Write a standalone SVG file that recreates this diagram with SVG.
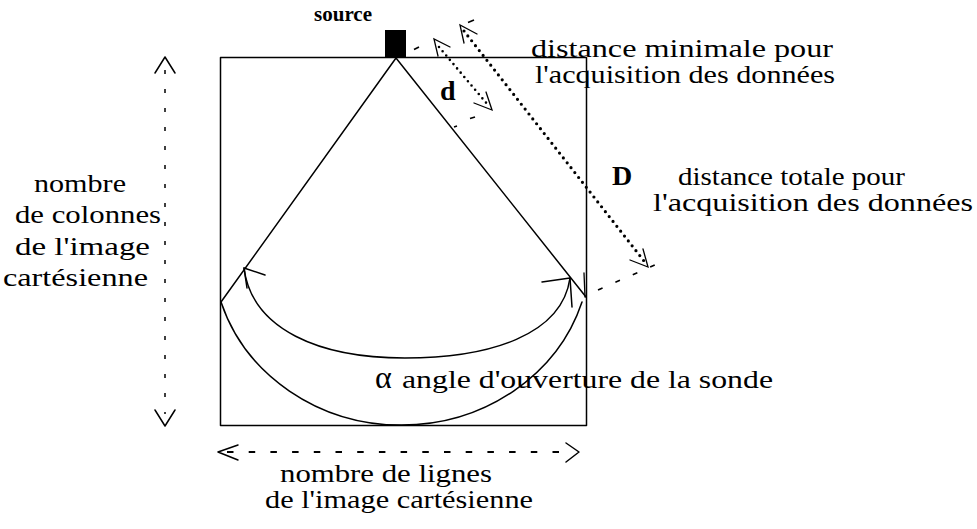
<svg xmlns="http://www.w3.org/2000/svg" width="977" height="529" viewBox="0 0 977 529">
<style>
  text { font-family: "Liberation Serif", Tinos, "Times New Roman", Times, serif; fill: #000; }
  .t { font-size: 25px; }
  .tl { font-size: 26px; }
  .b { font-size: 28px; font-weight: bold; }
  .ln { fill: none; stroke: #000; stroke-width: 1.5; stroke-linecap: round; stroke-linejoin: round; }
  .th { fill: none; stroke: #000; stroke-width: 1.3; stroke-linecap: round; }
  .dashv { fill: none; stroke: #000; stroke-width: 1.5; stroke-dasharray: 4 15; }
  .dashh { fill: none; stroke: #000; stroke-width: 1.8; stroke-dasharray: 6.5 15.2; }
  .dotD { fill: none; stroke: #000; stroke-width: 3.2; stroke-linecap: round; stroke-dasharray: 0 6.2; }
  .dotd { fill: none; stroke: #000; stroke-width: 2.6; stroke-linecap: round; stroke-dasharray: 0 5.6; }
  .ext { fill: none; stroke: #000; stroke-width: 1.6; }
</style>
<rect width="977" height="529" fill="#fff"/>

<g id="image-box">
  <rect x="220.5" y="57.5" width="366" height="368" class="ln"/>
</g>

<g id="source">
  <rect x="385" y="30" width="21" height="28" fill="#000"/>
  <text x="314" y="21" style="font-size:22px;font-weight:bold" textLength="58" lengthAdjust="spacingAndGlyphs">source</text>
</g>

<g id="sector">
  <line x1="396" y1="58" x2="221" y2="302" class="ln"/>
  <line x1="396" y1="58" x2="586" y2="297" class="ln"/>
  <path d="M221,302 A189,175 0 0,0 582,302" class="ln"/>
  <line x1="584" y1="273" x2="585" y2="297" class="th"/>
</g>

<g id="connectors">
  <path d="M244,268 C252,330 320,358 405,358 C490,358 562,335 570,278" class="ln"/>
  <polyline points="265,275 244,268 247,288" class="ln"/>
  <polyline points="542,282 570,278 572,307" class="ln"/>

  <line x1="439" y1="47" x2="488" y2="105" class="dotd"/>
  <polyline points="438,56 434,39 450,47" class="th"/>
  <polyline points="486,92 492,110 474,103" class="th"/>

  <line x1="464" y1="31" x2="644" y2="261" class="dotD"/>
  <polyline points="464,43 460,25 477,34" class="th"/>
  <polyline points="643,249 648,267 630,260" class="th"/>

  <line x1="414" y1="49.5" x2="419" y2="47" class="ext"/>
  <line x1="468" y1="22.5" x2="474" y2="20" class="ext"/>
  <line x1="470" y1="118.5" x2="475" y2="117" class="ext"/>
  <line x1="454" y1="127" x2="457" y2="126" class="ext"/>
  <line x1="598" y1="290" x2="666" y2="260" class="ext" stroke-dasharray="5 14"/>

  <line x1="165" y1="70" x2="165" y2="414" class="dashv"/>
  <polyline points="155,73 165,57 175,73" class="ln"/>
  <polyline points="155,410 165,426 175,410" class="ln"/>

  <line x1="227" y1="452" x2="568" y2="452" class="dashh"/>
  <polyline points="238,445 218,452 238,460" class="ln"/>
  <polyline points="566,443 579,452 566,462" class="ln"/>
</g>

<g id="label-d">
  <text x="440" y="100" class="b">d</text>
</g>
<g id="label-D">
  <text x="612" y="185" class="b">D</text>
</g>

<g id="label-min">
  <text x="531" y="57" class="t" textLength="302" lengthAdjust="spacingAndGlyphs">distance minimale pour</text>
  <text x="535" y="83" class="t" textLength="300" lengthAdjust="spacingAndGlyphs">l'acquisition des données</text>
</g>

<g id="label-total">
  <text x="678" y="185" class="t" textLength="227" lengthAdjust="spacingAndGlyphs">distance totale pour</text>
  <text x="653" y="211" class="t" textLength="320" lengthAdjust="spacingAndGlyphs">l'acquisition des données</text>
</g>

<g id="label-colonnes">
  <text x="34" y="192" class="tl" textLength="92" lengthAdjust="spacingAndGlyphs">nombre</text>
  <text x="15" y="223" class="tl" textLength="146" lengthAdjust="spacingAndGlyphs">de colonnes</text>
  <text x="15" y="255" class="tl" textLength="135" lengthAdjust="spacingAndGlyphs">de l'image</text>
  <text x="3" y="286" class="tl" textLength="145" lengthAdjust="spacingAndGlyphs">cartésienne</text>
</g>

<g id="label-angle">
  <text x="375" y="388" style="font-size:32px">α</text>
  <text x="402" y="388" class="tl" textLength="371" lengthAdjust="spacingAndGlyphs">angle d'ouverture de la sonde</text>
</g>

<g id="label-lignes">
  <text x="280" y="482" class="t" textLength="212" lengthAdjust="spacingAndGlyphs">nombre de lignes</text>
  <text x="265" y="508" class="t" textLength="268" lengthAdjust="spacingAndGlyphs">de l'image cartésienne</text>
</g>
</svg>
